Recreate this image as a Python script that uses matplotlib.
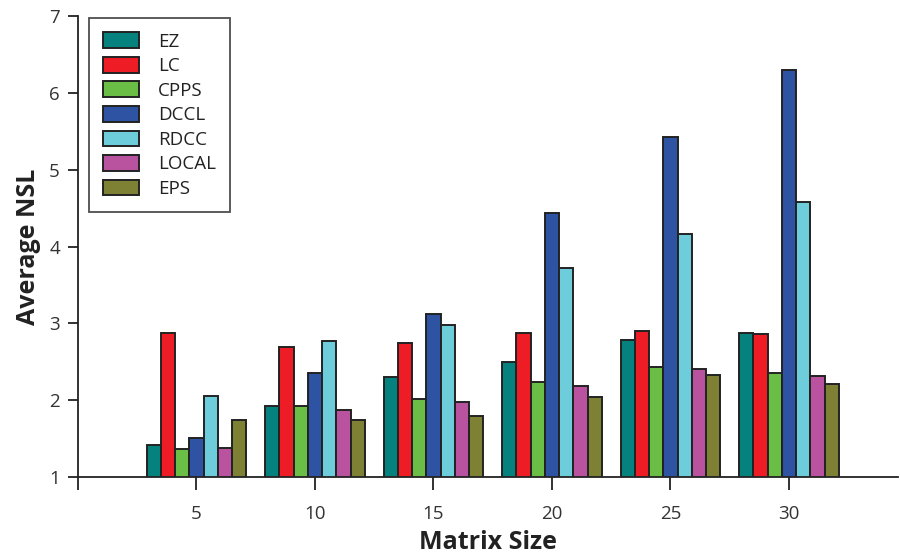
import matplotlib
matplotlib.use("Agg")
import matplotlib.pyplot as plt
import numpy as np

plt.rcParams['font.family'] = ['Open Sans', 'DejaVu Sans']

sizes = [5, 10, 15, 20, 25, 30]
series = ['EZ', 'LC', 'CPPS', 'DCCL', 'RDCC', 'LOCAL', 'EPS']
EZ    = [1.41, 1.92, 2.30, 2.50, 2.78, 2.88]
LC    = [2.88, 2.69, 2.75, 2.87, 2.90, 2.86]
CPPS  = [1.36, 1.93, 2.02, 2.23, 2.43, 2.35]
DCCL  = [1.51, 2.36, 3.12, 4.44, 5.42, 6.30]
RDCC  = [2.06, 2.77, 2.98, 3.72, 4.16, 4.58]
LOCAL = [1.38, 1.87, 1.98, 2.18, 2.41, 2.31]
EPS   = [1.74, 1.74, 1.80, 2.04, 2.33, 2.21]
values = [EZ, LC, CPPS, DCCL, RDCC, LOCAL, EPS]
colors = ['#05827e', '#ee1c25', '#6abd45', '#2e53a3', '#6dcddb', '#b9539f', '#7e8033']

fig = plt.figure(figsize=(9, 5.59), dpi=100)
ax = fig.add_axes([78/900, 1-477/559, 820/900, 461/559])

w = 0.6
x = np.array(sizes, dtype=float)
for i, (name, vals, c) in enumerate(zip(series, values, colors)):
    ax.bar(x + (i - 3) * w, vals, width=w, color=c, edgecolor='#222222',
           linewidth=1.4, label=name, zorder=2)

ax.set_xlim(0, 34.6)
ax.set_ylim(1, 7)
ax.set_xticks([0] + sizes)
ax.set_xticklabels([''] + [str(s) for s in sizes])
ax.set_yticks(range(1, 8))
for s in ['top', 'right']:
    ax.spines[s].set_visible(False)
for s in ['left', 'bottom']:
    ax.spines[s].set_linewidth(1.3)
    ax.spines[s].set_color('#222222')
ax.tick_params(axis='y', direction='out', length=7, width=1.3, labelsize=13.5,
               colors='#222222', labelcolor='#333333', pad=6)
ax.tick_params(axis='x', direction='out', length=9, width=1.3, labelsize=13.5,
               colors='#222222', labelcolor='#333333', pad=11)
ax.set_xlabel('Matrix Size', fontsize=18, fontweight='bold', color='#222222', labelpad=5)
ax.set_ylabel('Average NSL', fontsize=18, fontweight='bold', color='#222222', labelpad=6)

leg = ax.legend(loc='upper left', bbox_to_anchor=(0.013, 0.995), borderaxespad=0,
                fontsize=13.5, frameon=True, fancybox=False, edgecolor='#222222',
                handlelength=1.95, handleheight=0.92, handletextpad=1.0,
                labelspacing=0.33, borderpad=0.75)
leg.get_frame().set_linewidth(1.3)
for t in leg.get_texts():
    t.set_color('#222222')

fig.savefig('out.png', dpi=100)
